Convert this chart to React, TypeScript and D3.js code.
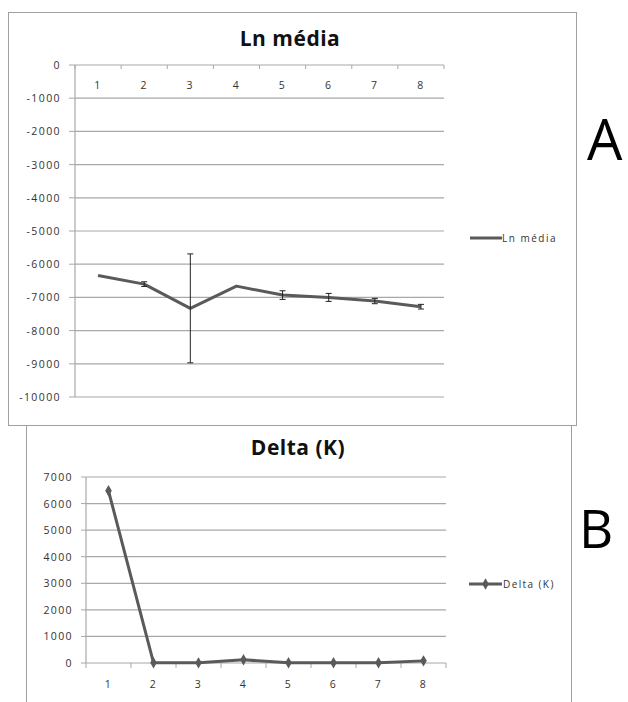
import React from 'react';
import {scaleBand, scaleLinear, line, range, symbol, symbolDiamond} from 'd3';

// chart A: Ln média with error bars
const categories = ['1', '2', '3', '4', '5', '6', '7', '8'];
const lnMedia = [-6340, -6600, -7330, -6660, -6930, -7000, -7110, -7280];
const lnErr = [0, 70, 1640, 0, 130, 120, 80, 70];
const yTicksA = range(0, -10001, -1000);

// chart B: Delta (K)
const deltaK = [6480, 10, 5, 120, 10, 10, 10, 80];
const yTicksB = range(0, 7001, 1000);

const font = '"Open Sans", Lato, sans-serif';
const lineColor = '#5a5a5a';
const gridColor = '#a8a8a8';
const textColor = '#333';
const tickFont = {fontFamily: font, fontSize: 10.5, letterSpacing: 1.4, fill: textColor};

const ChartA = () => {
    const left = 75, right = 444, top = 65, bottom = 397;
    const x = scaleBand().domain(categories).range([left, right]);
    const y = scaleLinear().domain([0, -10000]).range([top, bottom]);
    const cx = (c: string) => (x(c) as number) + x.bandwidth() / 2;
    const pts = categories.map((c, i) => ({c, v: lnMedia[i], e: lnErr[i]}));
    const path = line<any>().x(d => cx(d.c)).y(d => y(d.v))(pts);
    return (
        <g>
            <rect x={8.5} y={12.5} width={568} height={413} fill="#fff" stroke="#a0a0a0" />
            <text x={290} y={46} textAnchor="middle" fontFamily={font} fontWeight="bold" fontSize={21} letterSpacing={0.5} fill="#111">Ln média</text>
            {yTicksA.map(t => (
                <g key={t}>
                    {t !== 0 && <line x1={left} x2={right} y1={y(t)} y2={y(t)} stroke={gridColor} strokeWidth={1.2} />}
                    <line x1={left - 6} x2={left} y1={y(t)} y2={y(t)} stroke={gridColor} />
                    <text x={61} y={y(t) + 4} textAnchor="end" {...tickFont}>{t}</text>
                </g>
            ))}
            <line x1={left} x2={left} y1={top} y2={bottom} stroke={gridColor} strokeWidth={1.2} />
            <line x1={left} x2={right} y1={top} y2={top} stroke={gridColor} strokeWidth={1.2} />
            {range(categories.length + 1).map(i => {
                const xx = left + i * x.bandwidth();
                return <line key={i} x1={xx} x2={xx} y1={top} y2={top + 4} stroke={gridColor} />;
            })}
            {categories.map(c => (
                <text key={c} x={cx(c)} y={89} textAnchor="middle" {...tickFont}>{c}</text>
            ))}
            <path d={path as string} fill="none" stroke={lineColor} strokeWidth={3} strokeLinejoin="round" />
            {pts.filter(d => d.e > 0).map(d => (
                <g key={d.c} stroke="#222" strokeWidth={1}>
                    <line x1={cx(d.c)} x2={cx(d.c)} y1={y(d.v + d.e)} y2={y(d.v - d.e)} />
                    <line x1={cx(d.c) - 3} x2={cx(d.c) + 3} y1={y(d.v + d.e)} y2={y(d.v + d.e)} />
                    <line x1={cx(d.c) - 3} x2={cx(d.c) + 3} y1={y(d.v - d.e)} y2={y(d.v - d.e)} />
                </g>
            ))}
            <line x1={470} x2={502} y1={238} y2={238} stroke={lineColor} strokeWidth={3} />
            <text x={502} y={241.5} fontFamily={font} fontSize={10} letterSpacing={1.5} fill={textColor}>Ln média</text>
            <text x={587} y={160} fontFamily={font} fontSize={56} fill="#000">A</text>
        </g>
    );
};

const ChartB = () => {
    const left = 86, right = 446, top = 477, bottom = 663;
    const x = scaleBand().domain(categories).range([left, right]);
    const y = scaleLinear().domain([0, 7000]).range([bottom, top]);
    const cx = (c: string) => (x(c) as number) + x.bandwidth() / 2;
    const pts = categories.map((c, i) => ({c, v: deltaK[i]}));
    const path = line<any>().x(d => cx(d.c)).y(d => y(d.v))(pts);
    const diamond = symbol().type(symbolDiamond).size(38)();
    return (
        <g>
            <rect x={26.5} y={425.5} width={545} height={290} fill="#fff" stroke="#a0a0a0" />
            <text x={298} y={455} textAnchor="middle" fontFamily={font} fontWeight="bold" fontSize={21} letterSpacing={0.5} fill="#111">Delta (K)</text>
            {yTicksB.map(t => (
                <g key={t}>
                    {t !== 0 && <line x1={left} x2={right} y1={y(t)} y2={y(t)} stroke={gridColor} strokeWidth={1.2} />}
                    <line x1={left - 5} x2={left} y1={y(t)} y2={y(t)} stroke={gridColor} />
                    <text x={73} y={y(t) + 4} textAnchor="end" {...tickFont}>{t}</text>
                </g>
            ))}
            <line x1={left} x2={left} y1={top} y2={bottom} stroke={gridColor} strokeWidth={1.2} />
            <line x1={left} x2={right} y1={bottom} y2={bottom} stroke={gridColor} strokeWidth={1.2} />
            {range(categories.length + 1).map(i => {
                const xx = left + i * x.bandwidth();
                return <line key={i} x1={xx} x2={xx} y1={bottom} y2={bottom + 5} stroke={gridColor} />;
            })}
            {categories.map(c => (
                <text key={c} x={cx(c)} y={688} textAnchor="middle" {...tickFont}>{c}</text>
            ))}
            <path d={path as string} fill="none" stroke={lineColor} strokeWidth={3} strokeLinejoin="round" />
            {pts.map(d => (
                <path key={d.c} d={diamond as string} transform={`translate(${cx(d.c)},${y(d.v)})`} fill={lineColor} />
            ))}
            <line x1={469} x2={502} y1={584} y2={584} stroke={lineColor} strokeWidth={3} />
            <path d={diamond as string} transform="translate(485.5,584)" fill={lineColor} />
            <text x={503} y={587.5} fontFamily={font} fontSize={10} letterSpacing={1.4} fill={textColor}>Delta (K)</text>
            <text x={579} y={548} fontFamily={font} fontSize={53} fill="#000">B</text>
        </g>
    );
};

const App = () => (
    <svg width={628} height={702} style={{position: 'absolute', left: 0, top: 0, background: '#fff'}}>
        <rect width={628} height={702} fill="#fff" />
        <ChartB />
        <ChartA />
    </svg>
);

export default App;
